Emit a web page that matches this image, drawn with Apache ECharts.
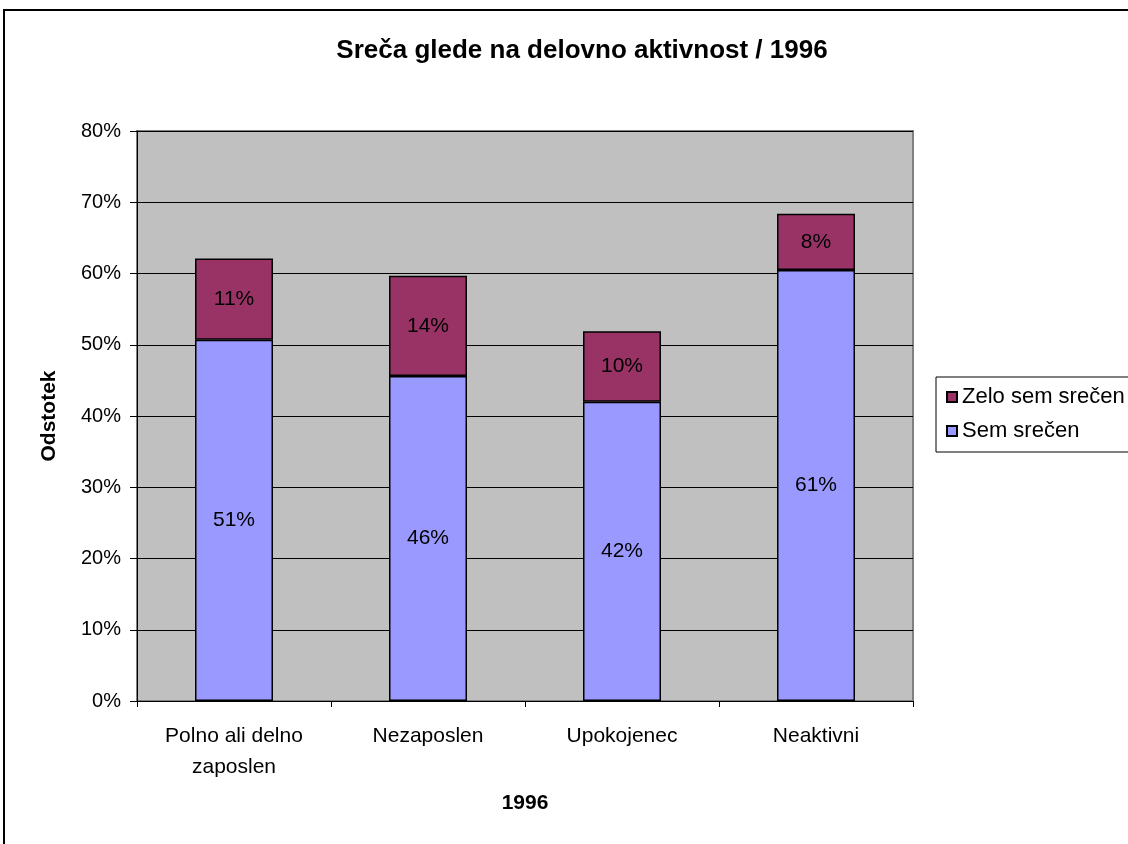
<!DOCTYPE html>
<html>
<head>
<meta charset="utf-8">
<title>Sreča glede na delovno aktivnost / 1996</title>
<script src="https://cdn.jsdelivr.net/npm/echarts@6/dist/echarts.min.js"></script>
<style>
  html, body { margin: 0; padding: 0; background: #fff; }
  #chart { width: 1128px; height: 844px; }
</style>
</head>
<body>
<div id="chart"></div>
<script>
// podatki (odstotki)
const categories = ['Polno ali delno\nzaposlen', 'Nezaposlen', 'Upokojenec', 'Neaktivni'];
const semSrecen = [50.7, 45.6, 42.0, 60.5];
const zeloSrecen = [11.4, 14.1, 9.9, 7.9];
const yTicks = [0, 10, 20, 30, 40, 50, 60, 70, 80];

const FONT = '"Liberation Sans", Arial, sans-serif';
const chart = echarts.init(document.getElementById('chart'));

const barLabel = {
  show: true,
  position: 'inside',
  color: '#000',
  fontSize: 21,
  fontFamily: FONT,
  formatter: (p) => `${Math.round(p.value)}%`,
};

chart.setOption({
  animation: false,
  backgroundColor: '#fff',
  textStyle: { fontFamily: FONT, color: '#000' },
  graphic: [{
    type: 'rect',
    shape: { x: 4, y: 10, width: 1200, height: 900 },
    style: { fill: 'none', stroke: '#000', lineWidth: 2 },
    silent: true,
  }],
  title: {
    text: 'Sreča glede na delovno aktivnost / 1996',
    left: 577,
    top: 33,
    textAlign: 'center',
    textStyle: { fontSize: 26, fontWeight: 'bold', color: '#000', fontFamily: FONT },
  },
  legend: {
    orient: 'vertical',
    left: 936,
    top: 377,
    data: ['Zelo sem srečen', 'Sem srečen'],
    icon: 'rect',
    itemWidth: 10,
    itemHeight: 10,
    itemGap: 12,
    padding: [9, 10, 10, 10],
    borderColor: '#000',
    borderWidth: 1,
    backgroundColor: '#fff',
    textStyle: { fontSize: 22, color: '#000', fontFamily: FONT },
  },
  grid: {
    left: 137,
    top: 131,
    width: 776,
    height: 570,
    show: true,
    backgroundColor: '#C0C0C0',
    borderColor: '#808080',
    borderWidth: 2,
  },
  xAxis: {
    type: 'category',
    data: categories,
    name: '1996',
    nameLocation: 'middle',
    nameGap: 92,
    nameTextStyle: { fontSize: 21, fontWeight: 'bold', color: '#000' },
    axisLine: { show: true, lineStyle: { color: '#000', width: 1 } },
    axisTick: { show: true, length: 6, lineStyle: { color: '#000' } },
    axisLabel: { fontSize: 21, color: '#000', margin: 20, lineHeight: 31, interval: 0 },
  },
  yAxis: {
    type: 'value',
    min: yTicks[0],
    max: yTicks[yTicks.length - 1],
    interval: 10,
    name: 'Odstotek',
    nameLocation: 'middle',
    nameGap: 77,
    nameTextStyle: { fontSize: 21, fontWeight: 'bold', color: '#000' },
    axisLine: { show: true, lineStyle: { color: '#000', width: 1 } },
    axisTick: { show: true, length: 7, lineStyle: { color: '#000' } },
    axisLabel: { fontSize: 20, color: '#000', margin: 16, formatter: '{value}%' },
    splitLine: { show: true, lineStyle: { color: '#000', width: 1 } },
  },
  series: [
    {
      name: 'Sem srečen',
      type: 'bar',
      stack: 'total',
      barWidth: 78,
      data: semSrecen,
      itemStyle: { color: '#9999FF', borderColor: '#000', borderWidth: 1.5 },
      label: barLabel,
    },
    {
      name: 'Zelo sem srečen',
      type: 'bar',
      stack: 'total',
      barWidth: 78,
      data: zeloSrecen,
      itemStyle: { color: '#993366', borderColor: '#000', borderWidth: 1.5 },
      label: barLabel,
    },
  ],
});
</script>
</body>
</html>
